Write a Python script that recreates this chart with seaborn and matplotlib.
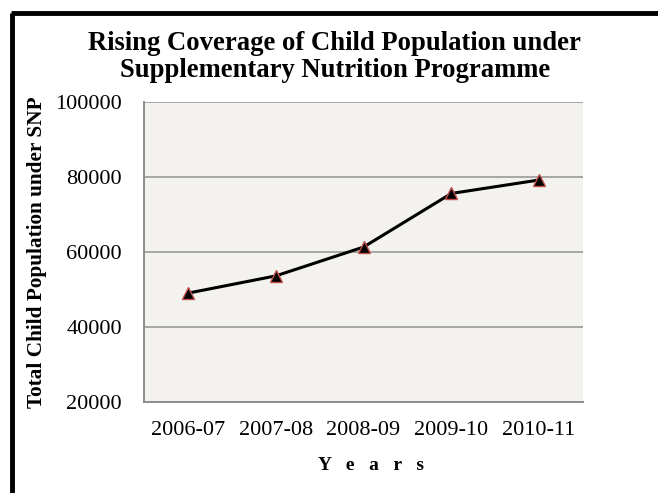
import matplotlib
matplotlib.use("Agg")
import matplotlib.pyplot as plt
import seaborn as sns
import pandas as pd
from matplotlib.lines import Line2D

years = ["2006-07", "2007-08", "2008-09", "2009-10", "2010-11"]
children = [49000, 53600, 61300, 75600, 79200]
y_ticks = [20000, 40000, 60000, 80000, 100000]

df = pd.DataFrame({"year": years, "children": children})

sns.set_style("white")
plt.rcParams["font.family"] = ["Liberation Serif", "DejaVu Serif"]
plt.rcParams["text.color"] = "black"
plt.rcParams["axes.labelcolor"] = "black"
plt.rcParams["xtick.labelcolor"] = "black"
plt.rcParams["ytick.labelcolor"] = "black"

fig = plt.figure(figsize=(6.58, 4.93), dpi=100)
ax = fig.add_axes([0.219, 0.185, 0.667, 0.608])
ax.set_facecolor("#F3F2EE")

sns.lineplot(data=df, x="year", y="children", ax=ax, color="black", linewidth=2.2,
             marker="^", markersize=8, markerfacecolor="black",
             markeredgecolor="#C0504D", markeredgewidth=1.0, zorder=3)

ax.set_ylim(20000, 100000)
ax.set_yticks(y_ticks)
ax.set_yticklabels([str(v) for v in y_ticks], fontsize=16)
ax.grid(axis="y", color="#A6A6A6", linewidth=1.4)
ax.set_axisbelow(True)

# ticks between categories, labels centred
ax.set_xlim(-0.5, len(years) - 0.5)
ax.set_xticks([i - 0.5 for i in range(len(years) + 1)])
ax.set_xticklabels([])
ax.set_xticks(range(len(years)), minor=True)
ax.set_xticklabels(years, minor=True, fontsize=16)
ax.tick_params(axis="x", which="major", length=6, width=1.2, color="#8C8C8C", direction="out")
ax.tick_params(axis="x", which="minor", length=0, pad=14)
ax.tick_params(axis="y", length=6, width=1.2, color="#8C8C8C", direction="out", pad=10)

for s in ["top", "right"]:
    ax.spines[s].set_visible(False)
for s in ["left", "bottom"]:
    ax.spines[s].set_color("#8C8C8C")
    ax.spines[s].set_linewidth(1.4)

ax.set_xlabel("Y   e   a   r   s", fontsize=14, fontweight="bold", labelpad=12)
ax.xaxis.label.set_x(0.517)
ax.set_ylabel("Total Child Population under SNP", fontsize=15.3, fontweight="bold", labelpad=6)

fig.text(0.509, 0.899, "Rising Coverage of Child Population under",
         ha="center", va="baseline", fontsize=19.2, fontweight="bold")
fig.text(0.509, 0.844, "Supplementary Nutrition Programme",
         ha="center", va="baseline", fontsize=19.2, fontweight="bold")

# outer frame (top and left edges)
fig.add_artist(Line2D([0.018, 0.018], [0.0, 0.973], color="black", linewidth=3.5,
                      solid_capstyle="butt", transform=fig.transFigure))
fig.add_artist(Line2D([0.016, 1.0], [0.973, 0.973], color="black", linewidth=3.5,
                      solid_capstyle="butt", transform=fig.transFigure))

fig.savefig("out.png", dpi=100)
